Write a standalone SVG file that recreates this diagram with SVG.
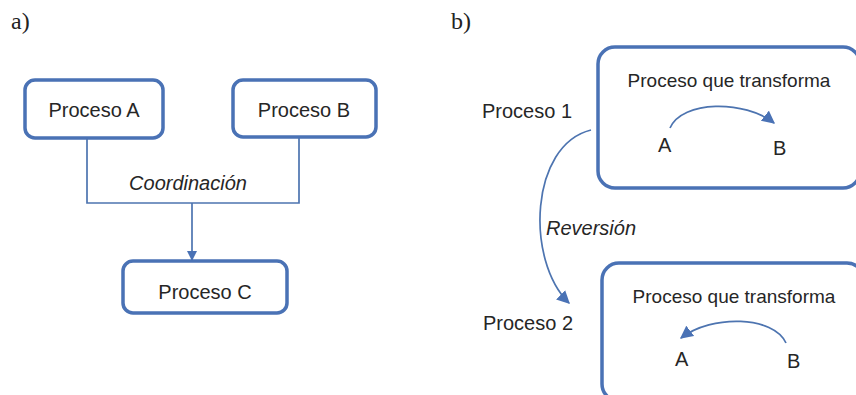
<svg xmlns="http://www.w3.org/2000/svg" width="856" height="395" viewBox="0 0 856 395">
<defs>
<style>
.box{fill:#fff;stroke:#4a72b5;stroke-width:3.5}
.t{font-family:"Liberation Sans",Arial,sans-serif;font-size:20px;fill:#262626}
.s{font-size:19px}
.it{font-style:italic}
.lab{font-family:"Liberation Serif","Times New Roman",serif;font-size:24px;fill:#222}
.con{fill:none;stroke:#4d74b0;stroke-width:1.7}
</style>
<marker id="ah" viewBox="0 0 10 10" refX="9" refY="5" markerWidth="10" markerHeight="10" markerUnits="userSpaceOnUse" orient="auto">
<path d="M0,0 L10,5 L0,10 z" fill="#4a72b5"/>
</marker>
<marker id="ah2" viewBox="0 0 10 10" refX="9" refY="5" markerWidth="13" markerHeight="13" markerUnits="userSpaceOnUse" orient="auto">
<path d="M0,0 L10,5 L0,10 z" fill="#4a72b5"/>
</marker>
</defs>
<rect width="856" height="395" fill="#fff"/>
<text class="lab" x="11" y="29">a)</text>
<text class="lab" x="451" y="29">b)</text>

<g id="procesoA"><rect class="box" x="25" y="80" width="138" height="58" rx="10"/><text class="t" x="94" y="117" text-anchor="middle">Proceso A</text></g>
<g id="procesoB"><rect class="box" x="233" y="80" width="143" height="57" rx="10"/><text class="t" x="304" y="117" text-anchor="middle">Proceso B</text></g>
<g id="procesoC"><rect class="box" x="123" y="261" width="164" height="52" rx="10"/><text class="t" x="205" y="299" text-anchor="middle">Proceso C</text></g>

<g id="proceso1"><text class="t" x="482" y="118">Proceso 1</text>
<rect class="box" x="598" y="47" width="262" height="141" rx="17"/>
<text class="t s" x="729" y="87" text-anchor="middle">Proceso que transforma</text>
<text class="t" x="658" y="152">A</text><text class="t" x="773" y="155">B</text></g>
<g id="proceso2"><text class="t" x="483" y="330">Proceso 2</text>
<rect class="box" x="602" y="263" width="262" height="138" rx="17"/>
<text class="t s" x="734" y="303" text-anchor="middle">Proceso que transforma</text>
<text class="t" x="675" y="366">A</text><text class="t" x="787" y="368">B</text></g>

<g id="connectors">
<path class="con" d="M87,139 V203 H299 V138"/>
<path class="con" d="M192,203 V260" marker-end="url(#ah)"/>
<text class="t it" x="188" y="190" text-anchor="middle">Coordinación</text>
<path class="con" d="M670,128 C682,100 745,100 774,123" marker-end="url(#ah2)"/>
<path class="con" d="M786,343 C774,316 712,314 681,338" marker-end="url(#ah2)"/>
<path class="con" d="M591,130 C530,145 525,260 569,303" marker-end="url(#ah2)"/>
<text class="t it" x="546" y="235">Reversión</text>
</g>
</svg>
